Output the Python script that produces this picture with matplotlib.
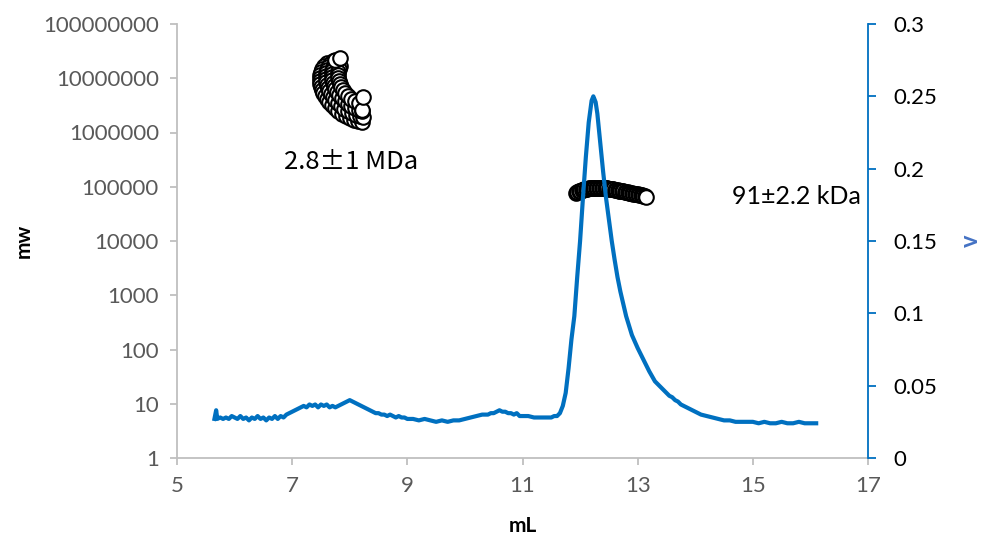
import matplotlib
matplotlib.use("Agg")
import matplotlib.pyplot as plt
from matplotlib.ticker import FixedLocator, NullLocator, FuncFormatter

plt.rcParams['font.family'] = ['Lato', 'DejaVu Sans']

# UV trace (elution volume in mL, detector signal in V)
trace_ml = [5.65, 5.68, 5.70, 5.75, 5.80, 5.85, 5.90, 5.95, 6.00, 6.05, 6.10, 6.15,
            6.20, 6.25, 6.30, 6.35, 6.40, 6.45, 6.50, 6.55, 6.60, 6.65, 6.70, 6.75,
            6.80, 6.85, 6.90, 6.95, 7.00, 7.05, 7.10, 7.15, 7.20, 7.25, 7.30, 7.35,
            7.40, 7.45, 7.50, 7.55, 7.60, 7.65, 7.70, 7.75, 7.80, 7.85, 7.90, 7.95,
            8.00, 8.05, 8.10, 8.15, 8.20, 8.25, 8.30, 8.35, 8.40, 8.45, 8.50, 8.55,
            8.60, 8.65, 8.70, 8.75, 8.80, 8.85, 8.90, 8.95, 9.00, 9.10, 9.20, 9.30,
            9.40, 9.50, 9.60, 9.70, 9.80, 9.90, 10.00, 10.10, 10.20, 10.30, 10.40,
            10.45, 10.50, 10.55, 10.60, 10.65, 10.70, 10.75, 10.80, 10.85, 10.90,
            10.95, 11.00, 11.10, 11.20, 11.30, 11.40, 11.50, 11.55, 11.60, 11.65,
            11.70, 11.75, 11.80, 11.85, 11.90, 11.95, 12.00, 12.05, 12.10, 12.15,
            12.20, 12.23, 12.27, 12.30, 12.35, 12.40, 12.45, 12.50, 12.55, 12.60,
            12.65, 12.70, 12.80, 12.90, 13.00, 13.10, 13.20, 13.30, 13.40, 13.45,
            13.50, 13.55, 13.60, 13.65, 13.70, 13.75, 13.80, 13.85, 13.90, 13.95,
            14.00, 14.05, 14.10, 14.20, 14.30, 14.40, 14.50, 14.60, 14.70, 14.80,
            14.90, 15.00, 15.10, 15.20, 15.30, 15.40, 15.50, 15.60, 15.70, 15.80,
            15.90, 16.00, 16.10]
trace_v = [0.027, 0.033, 0.027, 0.028, 0.027, 0.028, 0.027, 0.029, 0.028, 0.027, 0.029, 0.027,
           0.028, 0.026, 0.028, 0.027, 0.029, 0.027, 0.028, 0.026, 0.028, 0.027, 0.029, 0.027,
           0.029, 0.028, 0.030, 0.031, 0.032, 0.033, 0.034, 0.035, 0.036, 0.035, 0.037, 0.036,
           0.037, 0.035, 0.037, 0.036, 0.037, 0.035, 0.036, 0.035, 0.036, 0.037, 0.038, 0.039,
           0.040, 0.039, 0.038, 0.037, 0.036, 0.035, 0.034, 0.033, 0.032, 0.031, 0.031, 0.030,
           0.030, 0.029, 0.030, 0.029, 0.028, 0.029, 0.028, 0.028, 0.027, 0.027, 0.026, 0.027,
           0.026, 0.025, 0.026, 0.025, 0.026, 0.026, 0.027, 0.028, 0.029, 0.030, 0.030,
           0.031, 0.031, 0.032, 0.033, 0.032, 0.032, 0.031, 0.031, 0.030, 0.031,
           0.029, 0.029, 0.029, 0.028, 0.028, 0.028, 0.028, 0.029, 0.029, 0.031,
           0.036, 0.045, 0.062, 0.082, 0.098, 0.125, 0.150, 0.180, 0.208, 0.232,
           0.247, 0.250, 0.246, 0.238, 0.218, 0.198, 0.180, 0.165, 0.150, 0.137,
           0.125, 0.115, 0.098, 0.085, 0.076, 0.068, 0.060, 0.053, 0.049, 0.047,
           0.045, 0.043, 0.042, 0.040, 0.039, 0.037, 0.036, 0.035, 0.034, 0.033,
           0.032, 0.031, 0.030, 0.029, 0.028, 0.027, 0.026, 0.026, 0.025, 0.025,
           0.025, 0.025, 0.024, 0.025, 0.024, 0.024, 0.025, 0.024, 0.024, 0.025,
           0.024, 0.024, 0.024]

# Molar mass, aggregate peak
agg_ml = [7.605, 7.553, 7.518, 7.501, 7.483, 7.483, 7.483, 7.483, 7.501, 7.518, 7.536, 7.570,
          7.605, 7.640, 7.692, 7.744, 7.796, 7.866, 7.935, 8.004, 8.074, 8.143, 8.213,
          7.709, 7.657, 7.622, 7.605, 7.588, 7.588, 7.588, 7.588, 7.605, 7.622, 7.640, 7.674,
          7.709, 7.744, 7.796, 7.848, 7.900, 7.970, 8.039, 8.109, 8.178, 8.230,
          7.761, 7.727, 7.709, 7.692, 7.692, 7.692, 7.692, 7.709, 7.727, 7.744, 7.779, 7.813,
          7.866, 7.918, 7.970, 8.022, 8.091, 8.161, 8.213,
          7.831, 7.813, 7.796, 7.796, 7.796, 7.813, 7.831, 7.848, 7.883, 7.918, 7.970, 8.022,
          8.091, 8.161,
          8.213, 8.230, 7.744, 7.831]
agg_mw = [1.91e7, 1.68e7, 1.48e7, 1.30e7, 1.15e7, 1.01e7, 8.9e6, 7.8e6, 6.9e6, 6.1e6, 5.3e6, 4.7e6,
          4.15e6, 3.65e6, 3.2e6, 2.83e6, 2.5e6, 2.2e6, 2.0e6, 1.85e6, 1.70e6, 1.63e6, 1.56e6,
          2.08e7, 1.83e7, 1.61e7, 1.42e7, 1.25e7, 1.10e7, 9.7e6, 8.5e6, 7.5e6, 6.6e6, 5.8e6, 5.1e6,
          4.5e6, 4.0e6, 3.5e6, 3.1e6, 2.7e6, 2.5e6, 2.3e6, 2.1e6, 2.0e6, 1.93e6,
          2.0e7, 1.75e7, 1.55e7, 1.36e7, 1.20e7, 1.05e7, 9.3e6, 8.2e6, 7.2e6, 6.3e6, 5.6e6, 4.9e6,
          4.3e6, 3.8e6, 3.35e6, 3.1e6, 2.83e6, 2.6e6, 2.5e6,
          1.68e7, 1.48e7, 1.30e7, 1.15e7, 1.01e7, 8.9e6, 7.8e6, 6.9e6, 6.1e6, 5.3e6, 4.7e6, 4.15e6,
          3.8e6, 3.5e6,
          2.6e6, 4.5e6, 2.17e7, 2.36e7]

# Molar mass, main peak
main_ml = [11.925, 11.950, 11.975, 12.000, 12.025, 12.050, 12.075, 12.100, 12.125, 12.150,
           12.175, 12.200, 12.225, 12.250, 12.275, 12.300, 12.325, 12.350, 12.375, 12.400,
           12.425, 12.450, 12.475, 12.500, 12.525, 12.550, 12.575, 12.600, 12.625, 12.650,
           12.675, 12.700, 12.725, 12.750, 12.775, 12.800, 12.825, 12.850, 12.875, 12.900,
           12.925, 12.950, 12.975, 13.000, 13.025, 13.050, 13.075, 13.100, 13.125, 13.150]
main_mw = [78000, 80000, 82000, 84000, 86000, 88000, 89500, 91000, 92500, 93500,
           94500, 95000, 95500, 96000, 96000, 96000, 95500, 95500, 95000, 94500,
           94000, 93500, 93000, 92000, 91000, 90000, 89000, 88000, 87000, 86000,
           85000, 84000, 83000, 82000, 81000, 80000, 79000, 78000, 77000, 76000,
           75000, 74000, 73000, 72000, 71000, 70000, 69000, 68000, 67000, 65500]

mw_ticks = [1, 10, 100, 1000, 10000, 100000, 1000000, 10000000, 100000000]
v_ticks = [0, 0.05, 0.1, 0.15, 0.2, 0.25, 0.3]
v_tick_labels = ["0", "0.05", "0.1", "0.15", "0.2", "0.25", "0.3"]
ml_ticks = [5, 7, 9, 11, 13, 15, 17]

grey_axis = "#BFBFBF"
grey_text = "#595959"
blue_line = "#0070C0"

fig = plt.figure(figsize=(9.82, 5.39), dpi=100)
ax = fig.add_axes([177 / 982, 1 - 458 / 539, (868 - 177) / 982, (458 - 24) / 539])
ax2 = ax.twinx()

ax.scatter(agg_ml, agg_mw, s=110, facecolor="white", edgecolor="black", linewidth=1.5, zorder=3)
ax.scatter(main_ml, main_mw, s=110, facecolor="white", edgecolor="black", linewidth=1.5, zorder=3)
ax2.plot(trace_ml, trace_v, color=blue_line, linewidth=3.0, solid_joinstyle="round")

ax.set_yscale("log")
ax.set_ylim(1, 1e8)
ax.set_xlim(5, 17)
ax.yaxis.set_major_locator(FixedLocator(mw_ticks))
ax.yaxis.set_minor_locator(NullLocator())
ax.yaxis.set_major_formatter(FuncFormatter(lambda v, p: f"{int(round(v))}"))
ax.set_xticks(ml_ticks)

ax2.set_ylim(0, 0.3)
ax2.set_yticks(v_ticks)
ax2.set_yticklabels(v_tick_labels)

for a in (ax, ax2):
    a.spines["top"].set_visible(False)
ax.spines["right"].set_visible(False)
ax2.spines["left"].set_visible(False)
ax2.spines["bottom"].set_visible(False)
ax.spines["left"].set_color(grey_axis)
ax.spines["bottom"].set_color(grey_axis)
ax.spines["left"].set_linewidth(1.3)
ax.spines["bottom"].set_linewidth(1.3)
ax2.spines["right"].set_color(blue_line)
ax2.spines["right"].set_linewidth(1.3)

ax.tick_params(axis="both", direction="out", length=5, width=1.3, color=grey_axis,
               labelsize=16, labelcolor=grey_text, pad=8)
ax2.tick_params(axis="y", direction="out", length=6, width=1.3, color=blue_line,
                labelsize=16, labelcolor="black", pad=12)

ax.set_ylabel("mw", fontsize=15, fontweight="bold", labelpad=7)
ax.set_xlabel("mL", fontsize=15, fontweight="bold", labelpad=14)
ax2.set_ylabel("v", fontsize=17, fontweight="bold", color="#4472C4", rotation=90, labelpad=16)

ax.text(8.02, 2.86e5, "2.8\u00b11 MDa", fontsize=18.5, ha="center", va="center",
        family=["Noto Sans CJK SC", "Lato"])
ax.text(15.75, 6.7e4, "91\u00b12.2 kDa", fontsize=18, ha="center", va="center")

fig.savefig("out.png", dpi=100)
